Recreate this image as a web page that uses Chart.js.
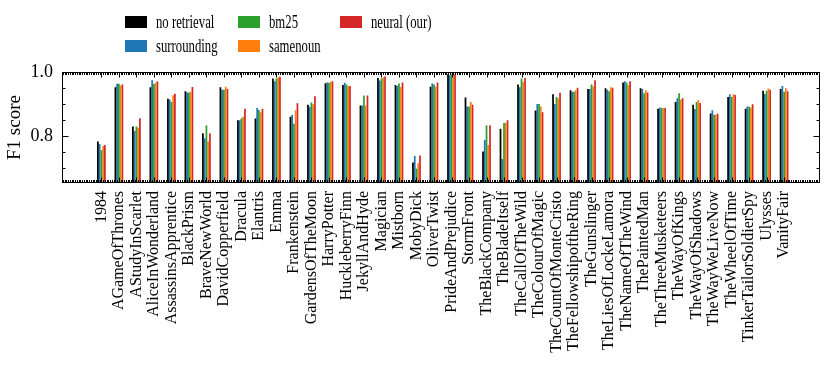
<!DOCTYPE html>
<html>
<head>
<meta charset="utf-8">
<script src="https://cdn.jsdelivr.net/npm/chart.js@4.4.1/dist/chart.umd.min.js"></script>
<style>
  html, body { margin: 0; padding: 0; background: #fff; }
  #wrap { position: relative; width: 831px; height: 372px; }
  #legend { position: absolute; left: 0; top: 0; width: 831px; height: 60px;
            font-family: "Liberation Serif", serif; font-size: 19px; color: #000; }
  .item { position: absolute; height: 24px; display: flex; align-items: center; }
  .box { width: 22px; height: 12px; flex: none; }
  .lbl { margin-left: 9px; transform: scaleX(0.67); transform-origin: left center; white-space: nowrap; }
</style>
</head>
<body>
<div id="wrap">
  <canvas id="chart"></canvas>
  <div id="legend"></div>
</div>
<script>
const categories = [
  '1984', 'AGameOfThrones', 'AStudyInScarlet', 'AliceInWonderland', 'AssassinsApprentice',
  'BlackPrism', 'BraveNewWorld', 'DavidCopperfield', 'Dracula', 'Elantris',
  'Emma', 'Frankenstein', 'GardensOfTheMoon', 'HarryPotter', 'HuckleberryFinn',
  'JekyllAndHyde', 'Magician', 'Mistborn', 'MobyDick', 'OliverTwist',
  'PrideAndPrejudice', 'StormFront', 'TheBlackCompany', 'TheBladeItself', 'TheCallOfTheWild',
  'TheColourOfMagic', 'TheCountOfMonteCristo', 'TheFellowshipoftheRing', 'TheGunslinger', 'TheLiesOfLockeLamora',
  'TheNameOfTheWind', 'ThePaintedMan', 'TheThreeMusketeers', 'TheWayOfKings', 'TheWayOfShadows',
  'TheWayWeLiveNow', 'TheWheelOfTime', 'TinkerTailorSoldierSpy', 'Ulysses', 'VanityFair'
];

const noRetrieval = [.782, .952, .829, .952, .916, .940, .808, .952, .849, .854,
  .980, .860, .897, .965, .959, .895, .981, .959, .716, .954,
  .993, .920, .751, .822, .961, .879, .930, .943, .947, .949,
  .967, .949, .885, .906, .897, .870, .922, .885, .941, .947];
const surrounding = [.774, .963, .815, .974, .914, .936, .792, .944, .849, .887,
  .971, .866, .891, .967, .966, .895, .973, .956, .737, .964,
  .990, .892, .787, .727, .952, .900, .900, .938, .947, .944,
  .971, .947, .889, .918, .884, .880, .930, .892, .931, .956];
const bm25 = [.755, .963, .829, .962, .906, .936, .832, .944, .855, .881,
  .980, .838, .904, .966, .961, .926, .980, .964, .697, .961,
  .993, .892, .833, .840, .980, .900, .922, .938, .961, .940,
  .967, .933, .887, .933, .906, .866, .922, .891, .941, .938];
const samenoun = [.768, .958, .825, .967, .927, .938, .782, .954, .860, .874,
  .983, .880, .899, .969, .955, .895, .983, .953, .714, .954,
  .993, .907, .771, .841, .969, .892, .917, .943, .955, .952,
  .959, .943, .887, .913, .912, .866, .930, .889, .948, .949];
const neural = [.771, .961, .855, .970, .932, .953, .808, .947, .885, .885,
  .985, .902, .924, .971, .956, .926, .986, .967, .738, .967,
  .993, .897, .833, .849, .981, .874, .935, .951, .974, .951,
  .971, .936, .887, .918, .903, .869, .928, .899, .944, .940];

const seriesNames = ['no retrieval', 'surrounding', 'bm25', 'samenoun', 'neural (our)'];
const seriesValues = [noRetrieval, surrounding, bm25, samenoun, neural];
const seriesColors = ['#000000', '#1f77b4', '#2ca02c', '#ff7f0e', '#d62728'];

const yTickValues = [0.8, 1.0];
const yTickLabels = ['0.8', '1.0'];

const serif = 'Liberation Serif';

// inward ticks on all four sides plus the frame, like the matplotlib original
const frameTicks = {
  id: 'frameTicks',
  afterDatasetsDraw(chart) {
    const { ctx, chartArea: a, scales: { x, y } } = chart;
    ctx.save();
    ctx.strokeStyle = '#000';
    ctx.lineWidth = 1;
    ctx.beginPath();
    const top = Math.round(a.top) + 0.5;
    const bottom = Math.round(a.bottom) - 0.5;
    const left = Math.round(a.left) + 0.5;
    const right = Math.round(a.right) - 0.5;

    for (let k = Math.ceil(x.min * 10); k <= Math.floor(x.max * 10); k++) {
      const px = Math.round(x.getPixelForValue(k / 10)) + 0.5;
      const major = k % 10 === 0 && k >= 0 && k / 10 < categories.length;
      const len = major ? 5 : 2.5;
      ctx.moveTo(px, top); ctx.lineTo(px, top + len);
      ctx.moveTo(px, bottom); ctx.lineTo(px, bottom - len);
    }
    for (let k = Math.ceil(y.min * 20); k <= Math.floor(y.max * 20); k++) {
      const py = Math.round(y.getPixelForValue(k / 20)) + 0.5;
      const major = k % 4 === 0;
      const len = major ? 6 : 3;
      ctx.moveTo(left, py); ctx.lineTo(left + len, py);
      ctx.moveTo(right, py); ctx.lineTo(right - len, py);
    }
    ctx.stroke();
    ctx.strokeRect(left, top, right - left, bottom - top);
    ctx.restore();
  }
};

const chart = new Chart(document.getElementById('chart'), {
  type: 'bar',
  data: {
    datasets: seriesValues.map((vals, k) => ({
      label: seriesNames[k],
      data: vals.map((v, i) => ({ x: i, y: v })),
      backgroundColor: seriesColors[k],
      borderWidth: 0,
      categoryPercentage: 0.5,
      barPercentage: 1.0
    }))
  },
  options: {
    responsive: true,
    maintainAspectRatio: false,
    animation: false,
    layout: { padding: { top: 72, right: 11, left: 0, bottom: 0 } },
    plugins: {
      legend: { display: false },
      tooltip: { enabled: false }
    },
    scales: {
      x: {
        type: 'linear',
        min: -2.25,
        max: 41.05,
        offset: false,
        grid: { display: false, drawTicks: false },
        border: { display: false },
        afterBuildTicks: s => { s.ticks = categories.map((c, i) => ({ value: i })); },
        afterFit: s => { s.height = 189; },
        ticks: {
          autoSkip: false,
          maxRotation: 90,
          minRotation: 90,
          padding: 8,
          color: '#000',
          font: { family: serif, size: 16 },
          callback: v => categories[v]
        }
      },
      y: {
        min: 0.652,
        max: 1.0,
        grid: { display: false, drawTicks: false },
        border: { display: false },
        afterBuildTicks: s => { s.ticks = yTickValues.map(v => ({ value: v })); },
        afterFit: s => { s.width = 62; },
        ticks: {
          padding: 9,
          color: '#000',
          font: { family: serif, size: 18 },
          callback: (v, i) => yTickLabels[i]
        },
        title: {
          display: true,
          text: 'F1 score',
          color: '#000',
          font: { family: serif, size: 19 },
          padding: { top: 4, bottom: 0 }
        }
      }
    }
  },
  plugins: [frameTicks]
});

// legend laid out in columns (column-major order as in the original)
const legendEl = document.getElementById('legend');
const colLeft = [125, 238, 340];
chart.data.datasets.forEach((ds, k) => {
  const item = document.createElement('div');
  item.className = 'item';
  item.style.left = colLeft[Math.floor(k / 2)] + 'px';
  item.style.top = (10 + (k % 2) * 24) + 'px';
  item.innerHTML = '<span class="box" style="background:' + ds.backgroundColor + '"></span>' +
    '<span class="lbl">' + ds.label + '</span>';
  legendEl.appendChild(item);
});
</script>
</body>
</html>
